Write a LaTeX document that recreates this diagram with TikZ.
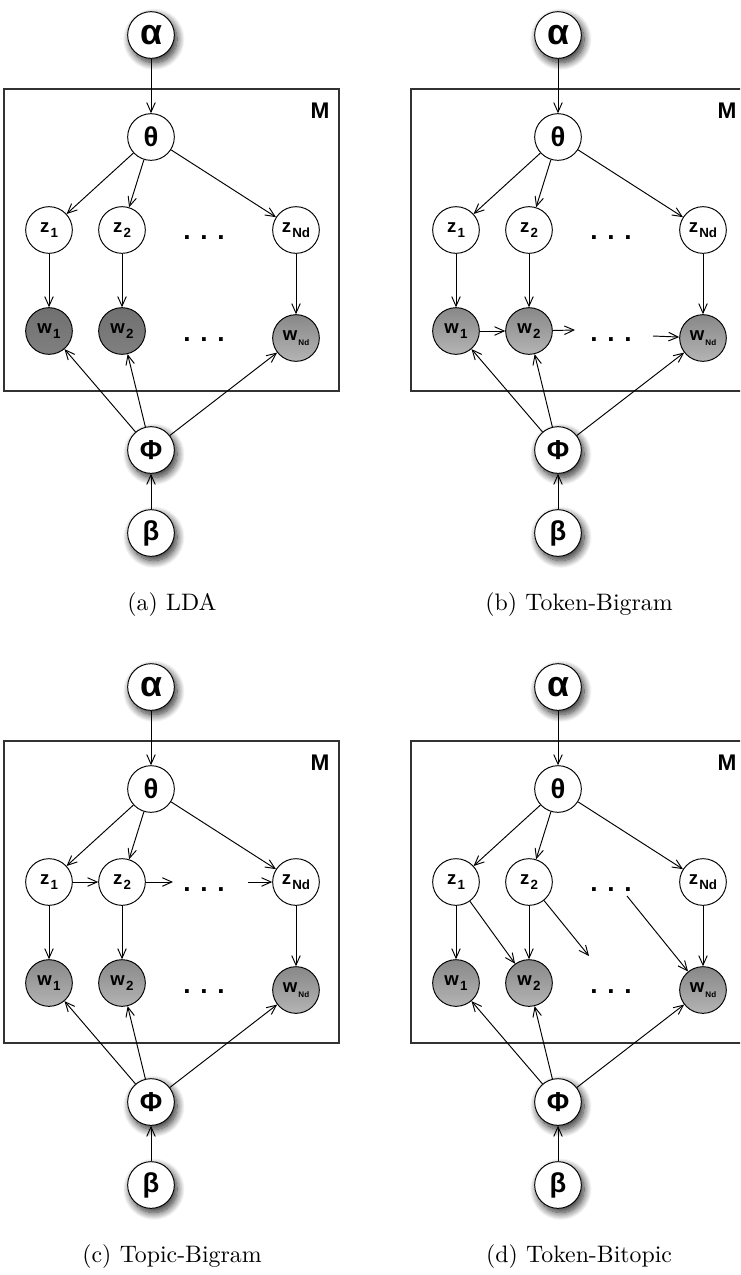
\documentclass[tikz,border=0pt]{standalone}
\usepackage{fontspec}
\newfontfamily\helv{Liberation Sans}
\usetikzlibrary{arrows.meta}
\usetikzlibrary{shadows.blur}
\tikzset{>={Straight Barb[length=4pt,width=3.6pt]}}
\definecolor{obsdarktop}{RGB}{112,112,112}
\definecolor{obsdarkbot}{RGB}{128,128,128}
\definecolor{obstop}{RGB}{136,136,136}
\definecolor{obsbot}{RGB}{180,180,180}
\definecolor{platecol}{RGB}{50,50,50}
\tikzstyle{latent}=[circle,draw,fill=white,minimum size=19.6pt,inner sep=0pt,font=\helv\bfseries\fontsize{7.8}{8}\selectfont]
\tikzstyle{greek}=[latent,font=\helv\bfseries\fontsize{11.5}{11.5}\selectfont]
\tikzstyle{hyper}=[greek,blur shadow={shadow xshift=1.2pt,shadow yshift=-1.8pt,shadow blur radius=3.2pt,shadow blur steps=14,shadow opacity=85}]
\tikzstyle{obsdark}=[latent,top color=obsdarktop,bottom color=obsdarkbot]
\tikzstyle{obslight}=[latent,top color=obstop,bottom color=obsbot]
\tikzstyle{dots}=[font=\helv\bfseries\fontsize{11}{11}\selectfont,anchor=base,inner sep=0pt]
\tikzstyle{plate}=[draw=platecol,line width=0.5pt]
\tikzstyle{edge}=[->]
\newcommand{\ssub}[1]{\hspace{0.5pt}\raisebox{-0.55ex}{\fontsize{5.6}{5.6}\selectfont #1}}
\newcommand{\tsub}[1]{\hspace{0.5pt}\raisebox{-0.55ex}{\fontsize{3.4}{3.4}\selectfont #1}}

\begin{document}
\begin{tikzpicture}[x=0.42pt,y=-0.42pt]
  \useasboundingbox (0,0) rectangle (740,1275);
  \clip (0,0) rectangle (740,1275);

  % the part shared by all four models
  \foreach \p/\dx/\dy/\wstyle/\name in {a/0/0/obsdark/LDA,b/407/0/obslight/Token-Bigram,c/0/652/obslight/Topic-Bigram,d/407/652/obslight/Token-Bitopic}{
  \begin{scope}[shift={(\dx,\dy)}]
    \draw[plate] (4,89) rectangle (339,391);
    \node[font=\helv\bfseries\fontsize{9.5}{9.5}\selectfont] (plate\p) at (320,111) {M};

    \node[hyper,font=\helv\bfseries\fontsize{15}{15}\selectfont] (alpha\p) at (151,35) {α};
    \node[greek] (theta\p) at (151,137) {θ};
    \node[latent] (zone\p) at (49,230) {z\ssub{1}};
    \node[latent] (ztwo\p) at (122,230) {z\ssub{2}};
    \node[latent] (zN\p) at (296,230) {z\ssub{Nd}};
    \node[dots] (zdots\p) at (204,239) {. . .};
    \node[\wstyle] (wone\p) at (49,331) {w\ssub{1}};
    \node[\wstyle] (wtwo\p) at (122,331) {w\ssub{2}};
    \node[obslight] (wN\p) at (296,338) {w\tsub{Nd}};
    \node[dots] (wdots\p) at (204,341) {. . .};
    \node[hyper] (phi\p) at (151,450) {Φ};
    \node[hyper] (beta\p) at (151,533) {β};

    \node[font=\fontsize{10}{12}\selectfont] (cap\p) at (172,605) {(\p)\hspace{0.35em}\name};

    \draw[edge] (alpha\p) -- (theta\p);
    \draw[edge] (theta\p) -- (zone\p);
    \draw[edge] (theta\p) -- (ztwo\p);
    \draw[edge] (theta\p) -- (zN\p);
    \draw[edge] (zone\p) -- (wone\p);
    \draw[edge] (ztwo\p) -- (wtwo\p);
    \draw[edge] (zN\p) -- (wN\p);
    \draw[edge] (phi\p) -- (wone\p);
    \draw[edge] (phi\p) -- (wtwo\p);
    \draw[edge] (phi\p) -- (wN\p);
    \draw[edge] (beta\p) -- (phi\p);
  \end{scope}}

  % token bigram: w chain
  \coordinate (wgapb) at (575,330);
  \coordinate (wgapNb) at (653,336);
  \draw[edge] (woneb) -- (wtwob);
  \draw[edge] (wtwob) -- (wgapb);
  \draw[edge] (wgapNb) -- (wNb);

  % topic bigram: z chain
  \coordinate (zgapc) at (173,882);
  \coordinate (zgapNc) at (248,882);
  \draw[edge] (zonec) -- (ztwoc);
  \draw[edge] (ztwoc) -- (zgapc);
  \draw[edge] (zgapNc) -- (zNc);

  % token bitopic: z to next w
  \coordinate (zgapd) at (589,956);
  \coordinate (zgapNd) at (627,896);
  \draw[edge] (zoned) -- (wtwod);
  \draw[edge] (ztwod) -- (zgapd);
  \draw[edge] (zgapNd) -- (wNd);
\end{tikzpicture}
\end{document}
